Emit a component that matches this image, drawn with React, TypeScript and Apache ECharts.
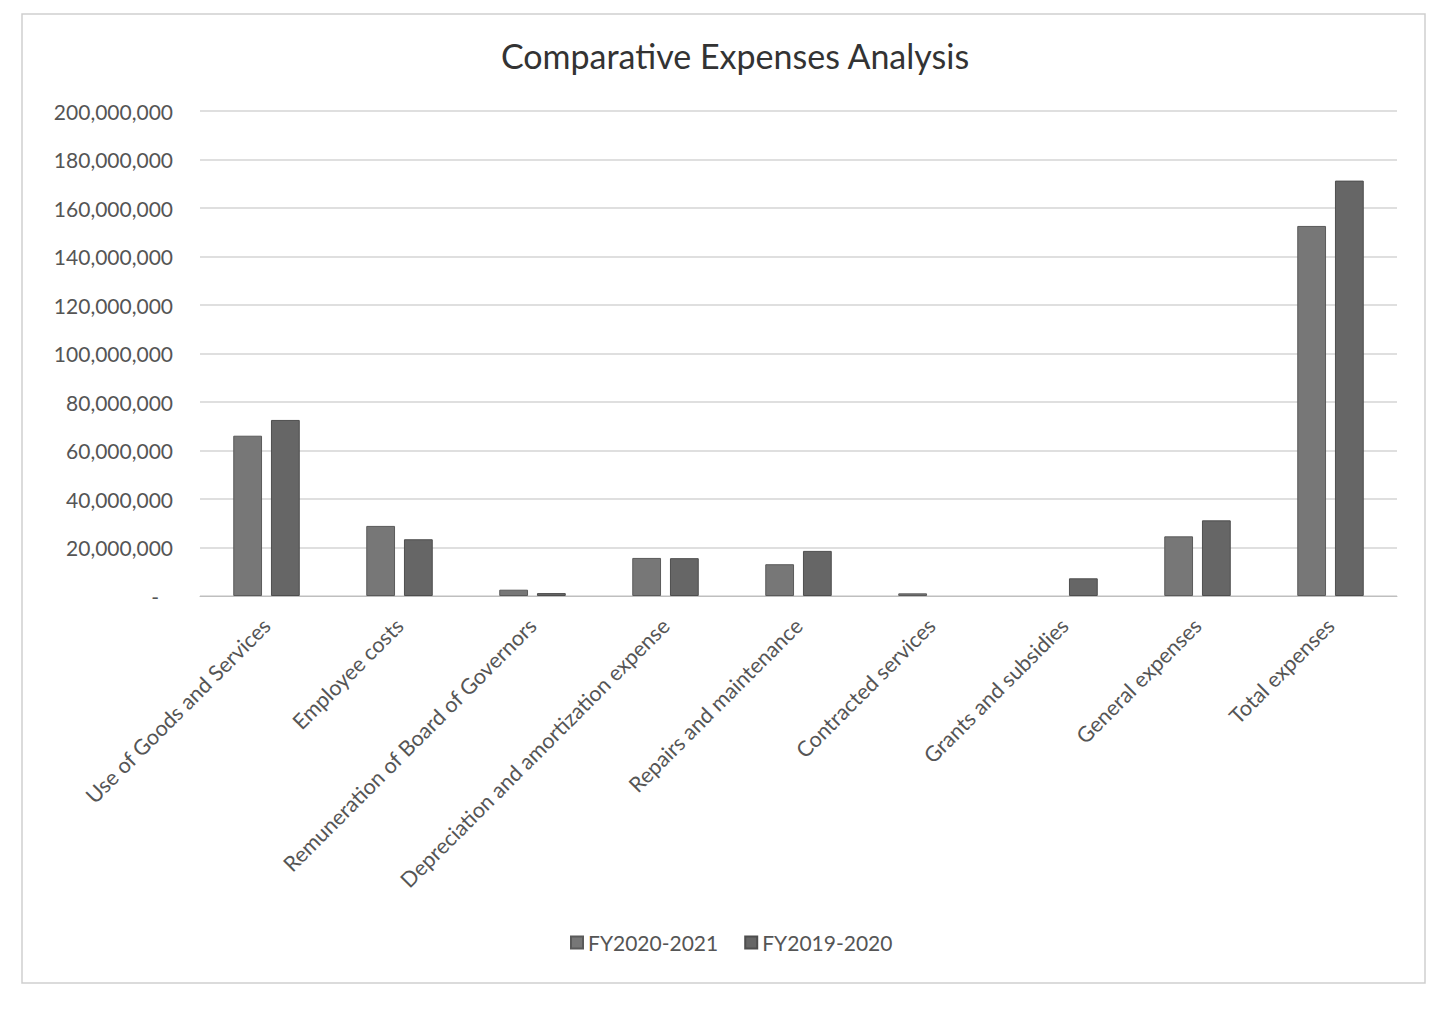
import React, { useEffect, useRef } from "react";
import * as echarts from "echarts";

const categories = [
  "Use of Goods and Services",
  "Employee costs",
  "Remuneration of Board of Governors",
  "Depreciation and amortization expense",
  "Repairs and maintenance",
  "Contracted services",
  "Grants and subsidies",
  "General expenses",
  "Total expenses",
];
const fy2021 = [66100000, 28900000, 2600000, 15700000, 13100000, 1100000, 0, 24600000, 152600000];
const fy2020 = [72600000, 23400000, 1200000, 15600000, 18600000, 0, 7300000, 31200000, 171300000];
const seriesNames = ["FY2020-2021", "FY2019-2020"];

const FONT = "Lato, 'Open Sans', 'Liberation Sans', sans-serif";
const noZero = (arr: number[]) => arr.map((v) => (v === 0 ? null : v));

export default function App() {
  const ref = useRef<HTMLDivElement>(null);
  useEffect(() => {
    const chart = echarts.init(ref.current!, null, { renderer: "svg" });
    chart.setOption({
      animation: false,
      backgroundColor: "#ffffff",
      title: {
        text: "Comparative Expenses Analysis",
        left: 730,
        textAlign: "center",
        top: 33,
        textStyle: { fontFamily: FONT, fontSize: 34, fontWeight: "normal", color: "#333333" },
      },
      graphic: [
        {
          type: "rect",
          shape: { x: 22, y: 14, width: 1403, height: 969 },
          style: { fill: "none", stroke: "#cfcfcf", lineWidth: 1.5 },
          silent: true,
        },
      ],
      legend: {
        data: seriesNames,
        top: 927,
        left: 565,
        itemWidth: 12,
        itemHeight: 12,
        itemGap: 26,
        icon: "rect",
        textStyle: { fontFamily: FONT, fontSize: 21, color: "#555555" },
      },
      grid: { left: 200, right: 32, top: 111, bottom: 413, containLabel: false },
      xAxis: {
        type: "category",
        data: categories,
        axisLine: { lineStyle: { color: "#bfbfbf" } },
        axisTick: { show: false },
        axisLabel: {
          rotate: 45,
          interval: 0,
          margin: 26,
          fontFamily: FONT,
          fontSize: 21.5,
          color: "#555555",
        },
      },
      yAxis: {
        type: "value",
        min: 0,
        max: 200000000,
        interval: 20000000,
        axisLine: { show: false },
        axisTick: { show: false },
        splitLine: { lineStyle: { color: "#d4d4d4", width: 1.5 } },
        axisLabel: {
          margin: 27,
          fontFamily: FONT,
          fontSize: 21,
          color: "#555555",
          formatter: (v: number) => (v === 0 ? "{d|-}" : v.toLocaleString("en-US")),
          rich: { d: { padding: [0, 14, 0, 0], fontSize: 21, color: "#555555" } },
        },
      },
      series: [
        {
          name: seriesNames[0],
          type: "bar",
          data: noZero(fy2021),
          barGap: "31%",
          barCategoryGap: "50%",
          itemStyle: { color: "#777777", borderColor: "#5a5a5a", borderWidth: 1 },
        },
        {
          name: seriesNames[1],
          type: "bar",
          data: noZero(fy2020),
          itemStyle: { color: "#666666", borderColor: "#4e4e4e", borderWidth: 1 },
        },
      ],
    });
    return () => chart.dispose();
  }, []);
  return (
    <div
      ref={ref}
      style={{ position: "fixed", left: 0, top: 0, width: 1429, height: 1009 }}
    />
  );
}
